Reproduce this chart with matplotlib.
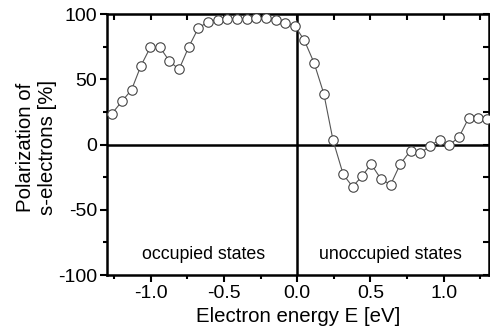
import numpy as np
import matplotlib as mpl
import matplotlib.pyplot as plt
from matplotlib.ticker import MultipleLocator

plt.rcParams['font.family'] = ['Liberation Sans', 'DejaVu Sans']
plt.rcParams['axes.unicode_minus'] = False

# electron energy [eV]
energy = [-1.266, -1.197, -1.131, -1.067, -1.003, -0.937, -0.873, -0.807,
          -0.741, -0.675, -0.608, -0.542, -0.476, -0.411, -0.346, -0.279,
          -0.214, -0.147, -0.080, -0.015, 0.049, 0.115, 0.182, 0.245,
          0.314, 0.378, 0.442, 0.505, 0.572, 0.638, 0.705, 0.774,
          0.842, 0.906, 0.973, 1.040, 1.105, 1.170, 1.235, 1.296]

# spin polarization of s-electrons [%]
polarization = [23.6, 33.1, 42.0, 60.4, 74.5, 74.5, 64.0, 57.6,
                74.7, 89.3, 94.1, 95.6, 96.2, 96.2, 96.2, 96.7,
                96.7, 95.4, 93.3, 90.8, 79.8, 62.7, 38.9, 3.2,
                -22.8, -32.3, -24.4, -15.0, -26.4, -30.8, -14.7, -4.8,
                -6.5, -1.1, 3.7, -0.2, 5.7, 20.1, 20.1, 19.5]

region_labels = ['occupied states', 'unoccupied states']

fig = plt.figure(figsize=(4.9, 3.35), dpi=100)
ax = fig.add_axes([0.218, 0.179, 0.78, 0.779])

ax.axhline(0, color='black', lw=1.8, zorder=1)
ax.axvline(0, color='black', lw=1.8, zorder=1)

ax.plot(energy, polarization, '-', color='#555555', lw=0.8,
        marker='o', ms=6.8, mfc='white', mec='#444444', mew=0.8, zorder=3)

ax.text(-0.64, -84, region_labels[0], ha='center', va='center', fontsize=12.8)
ax.text(0.64, -84, region_labels[1], ha='center', va='center', fontsize=12.8)

ax.set_xlim(-1.3, 1.31)
ax.set_ylim(-100, 100)
ax.xaxis.set_major_locator(MultipleLocator(0.5))
ax.xaxis.set_minor_locator(MultipleLocator(0.25))
ax.yaxis.set_major_locator(MultipleLocator(50))
ax.yaxis.set_minor_locator(MultipleLocator(25))
ax.xaxis.set_major_formatter(mpl.ticker.FormatStrFormatter('%.1f'))

for s in ax.spines.values():
    s.set_linewidth(1.8)

ax.tick_params(which='both', direction='out', width=1.5, labelsize=14, pad=2)
ax.tick_params(which='major', length=5)
ax.tick_params(which='minor', length=3)

# inward ticks on the top and right edges
top = ax.secondary_xaxis('top')
top.xaxis.set_major_locator(MultipleLocator(0.25))
top.tick_params(direction='in', length=4, width=1.5, labeltop=False)
right = ax.secondary_yaxis('right')
right.yaxis.set_major_locator(MultipleLocator(25))
right.tick_params(direction='in', length=4, width=1.5, labelright=False)

ax.set_xlabel('Electron energy E [eV]', fontsize=14.7, labelpad=4)
ax.set_ylabel('Polarization of\ns-electrons [%]', fontsize=14.7,
              linespacing=1.2)
ax.yaxis.set_label_coords(-0.13, 0.49)

fig.savefig('out.png', dpi=100)
